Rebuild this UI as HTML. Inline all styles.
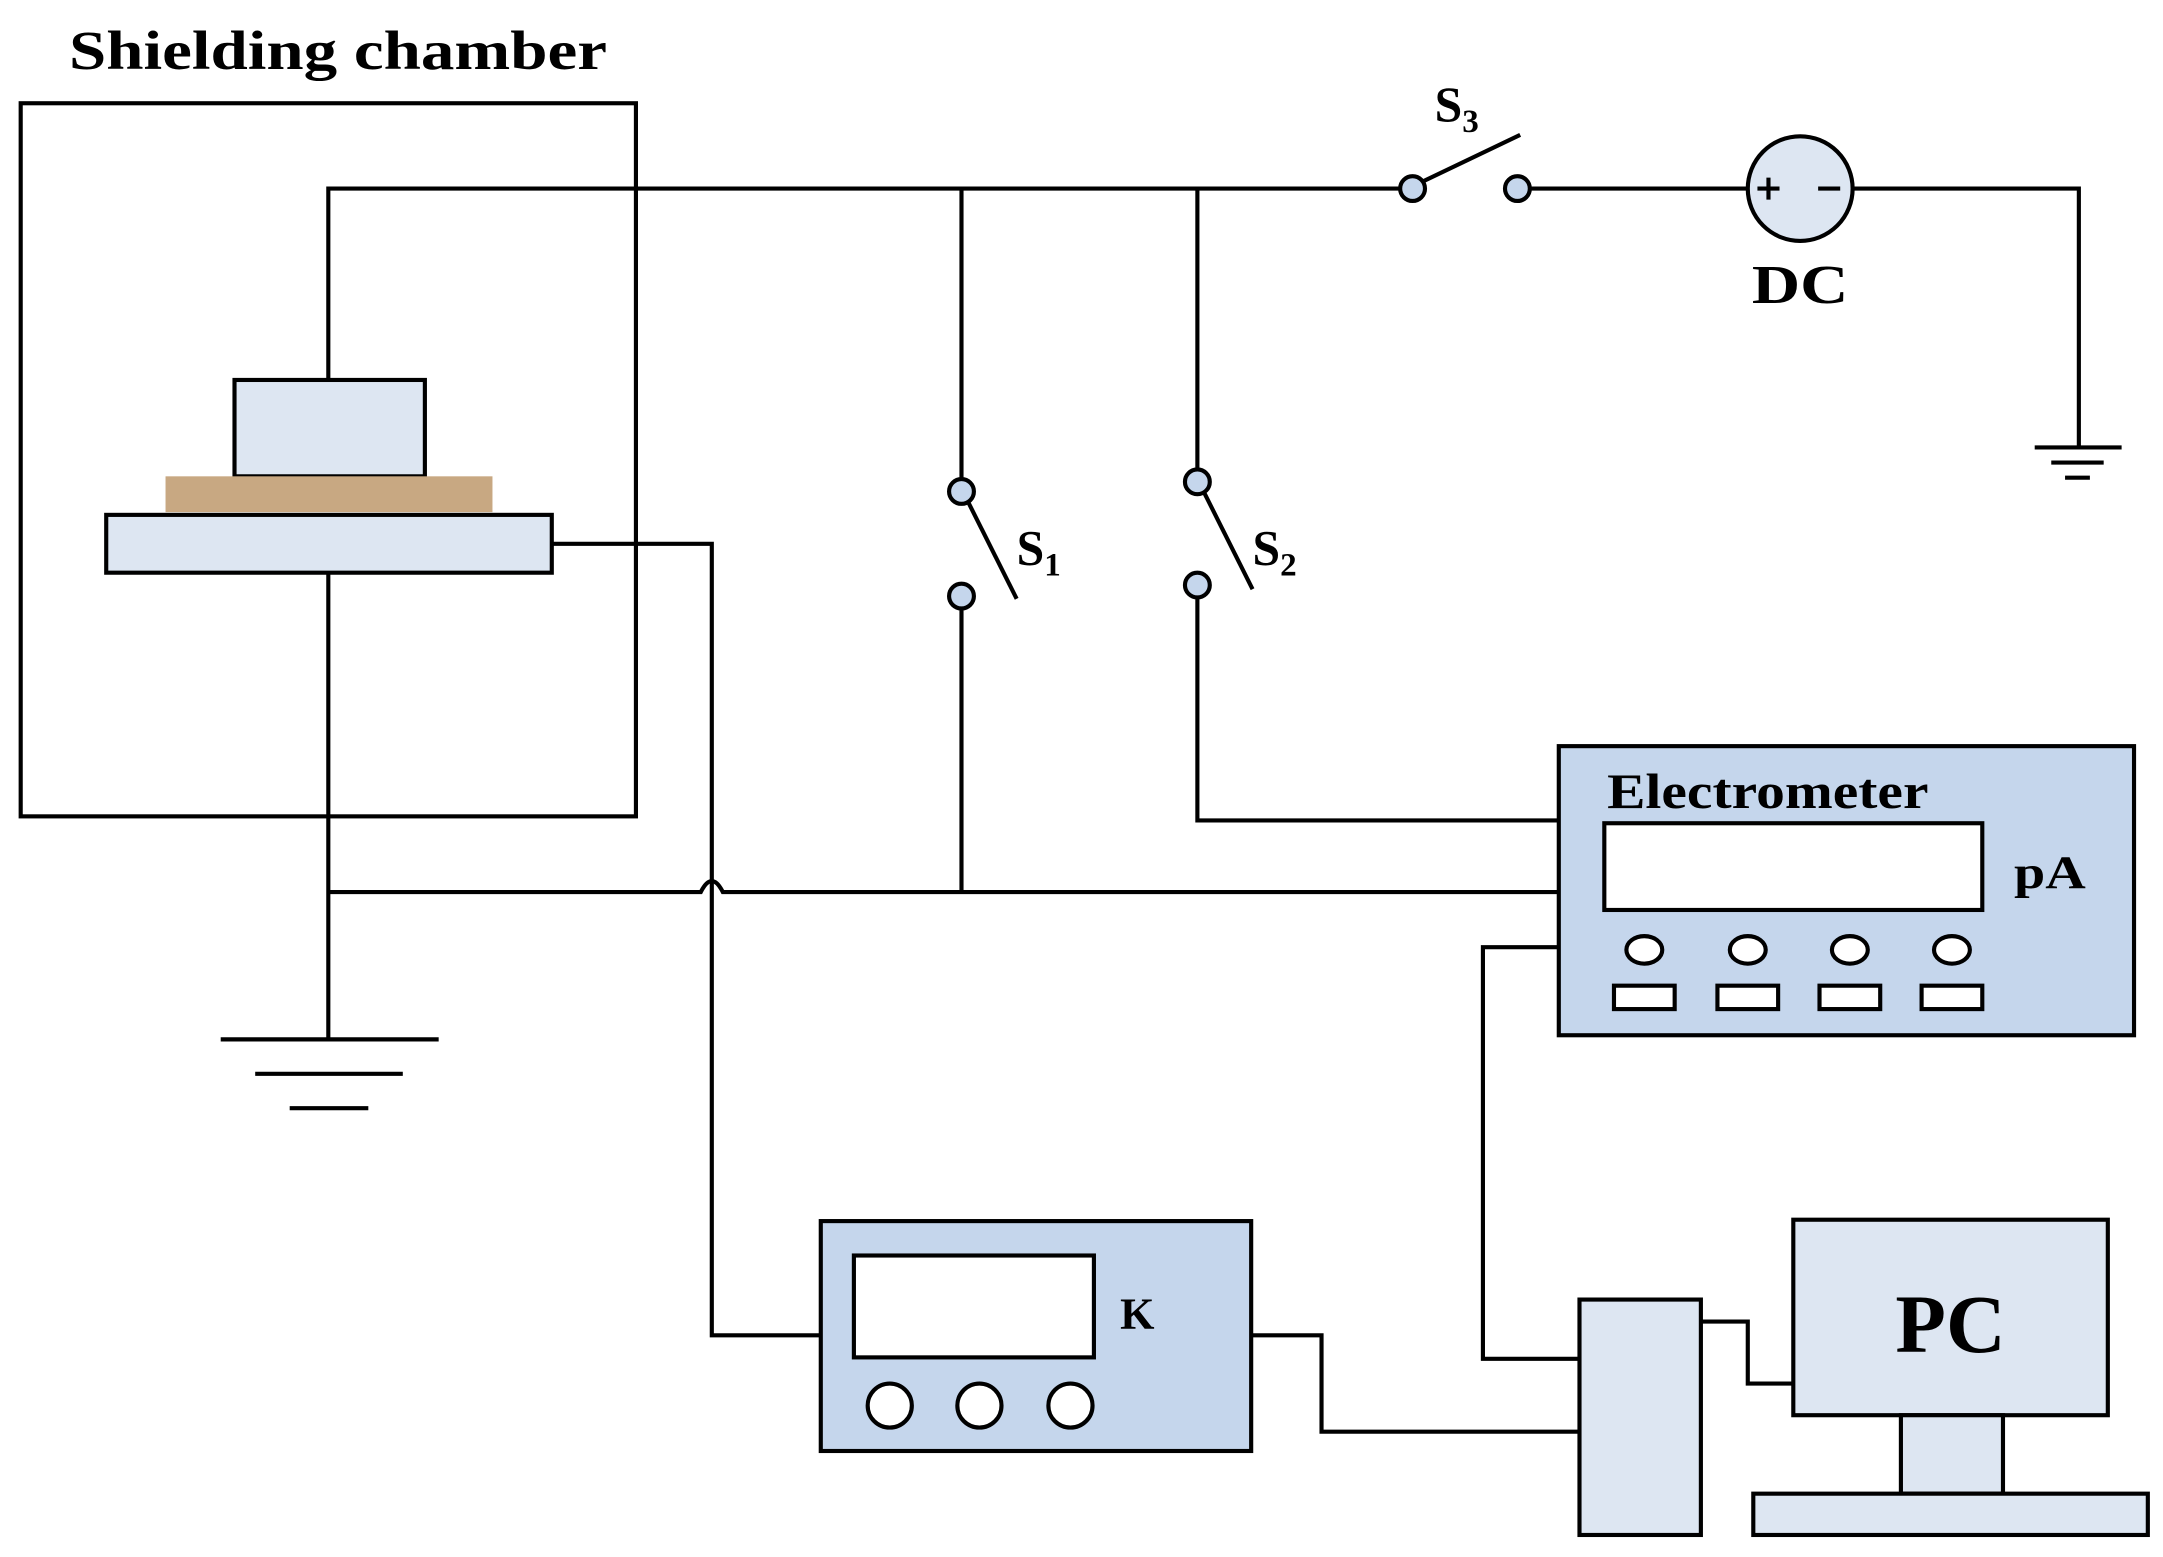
<!DOCTYPE html>
<html><head><style>html,body{margin:0;padding:0;background:#fff}svg{display:block}</style></head>
<body>
<svg width="2163" height="1557" viewBox="0 0 1568 1131" preserveAspectRatio="none" xmlns="http://www.w3.org/2000/svg" font-family="Liberation Serif, serif" font-weight="bold">
<g stroke="#000" stroke-width="3" fill="none">
<text x="50" y="50" font-size="40" fill="#000" stroke="none" textLength="390" lengthAdjust="spacingAndGlyphs">Shielding chamber</text>
<rect x="15" y="75" width="446" height="518"/>
<path d="M238 276 V137 H1016"/>
<rect x="170" y="276" width="138" height="70" fill="#dde6f2"/>
<rect x="120" y="346" width="237" height="26" fill="#c8a882" stroke="none"/>
<rect x="77" y="374" width="323" height="42" fill="#dde6f2"/>
<path d="M400 395 H516 V970 H595"/>
<path d="M238 416 V755"/>
<path d="M160 755 H318 M185 780 H292 M210 805 H267"/>
<path d="M238 648 H508 Q516 632 524 648 H1130"/>
<path d="M697 137 V348 M697 442 V648"/>
<circle cx="697" cy="357" r="9" fill="#c5d6ec"/><circle cx="697" cy="433" r="9" fill="#c5d6ec"/>
<path d="M702 365 L737 435"/>
<path d="M868 137 V341 M868 434 V596 H1130"/>
<circle cx="868" cy="350" r="9" fill="#c5d6ec"/><circle cx="868" cy="425" r="9" fill="#c5d6ec"/>
<path d="M873 358 L908 428"/>
<circle cx="1024" cy="137" r="9" fill="#c5d6ec"/><circle cx="1100" cy="137" r="9" fill="#c5d6ec"/>
<path d="M1031 132 L1102 98"/>
<path d="M1109 137 H1267 M1343 137 H1507 V325"/>
<circle cx="1305" cy="137" r="38" fill="#dde6f2"/>
<path d="M1274 137 H1290 M1282 129 V145 M1318 137 H1334"/>
<path d="M1475 325 H1538 M1487 336 H1525 M1497 347 H1515"/>
<rect x="1130" y="542" width="417" height="210" fill="#c5d6ec"/>
<rect x="1163" y="598" width="274" height="63" fill="#fff"/>
<ellipse cx="1192" cy="690" rx="13" ry="10" fill="#fff"/><ellipse cx="1267" cy="690" rx="13" ry="10" fill="#fff"/>
<ellipse cx="1341" cy="690" rx="13" ry="10" fill="#fff"/><ellipse cx="1415" cy="690" rx="13" ry="10" fill="#fff"/>
<rect x="1170" y="716" width="44" height="17" fill="#fff"/><rect x="1245" y="716" width="44" height="17" fill="#fff"/>
<rect x="1319" y="716" width="44" height="17" fill="#fff"/><rect x="1393" y="716" width="44" height="17" fill="#fff"/>
<path d="M1130 688 H1075 V987 H1145"/>
<rect x="595" y="887" width="312" height="167" fill="#c5d6ec"/>
<rect x="619" y="912" width="174" height="74" fill="#fff"/>
<circle cx="645" cy="1021" r="16" fill="#fff"/><circle cx="710" cy="1021" r="16" fill="#fff"/><circle cx="776" cy="1021" r="16" fill="#fff"/>
<path d="M907 970 H958 V1040 H1145"/>
<rect x="1145" y="944" width="88" height="171" fill="#dde6f2"/>
<path d="M1233 960 H1267 V1005 H1300"/>
<rect x="1300" y="886" width="228" height="142" fill="#dde6f2"/>
<rect x="1378" y="1028" width="74" height="57" fill="#dde6f2"/>
<rect x="1271" y="1085" width="286" height="30" fill="#dde6f2"/>
</g>
<g fill="#000">
<text x="1040" y="88" font-size="36">S<tspan font-size="24" dy="8">3</tspan></text>
<text x="1270" y="220" font-size="40" textLength="70" lengthAdjust="spacingAndGlyphs">DC</text>
<text x="737" y="410" font-size="36">S<tspan font-size="24" dy="8">1</tspan></text>
<text x="908" y="410" font-size="36">S<tspan font-size="24" dy="8">2</tspan></text>
<text x="1165" y="587" font-size="36" textLength="233" lengthAdjust="spacingAndGlyphs">Electrometer</text>
<text x="1460" y="645" font-size="34" textLength="52" lengthAdjust="spacingAndGlyphs">pA</text>
<text x="812" y="965" font-size="32">K</text>
<text x="1414" y="982" font-size="60" text-anchor="middle">PC</text>
</g>
</svg>
</body></html>
